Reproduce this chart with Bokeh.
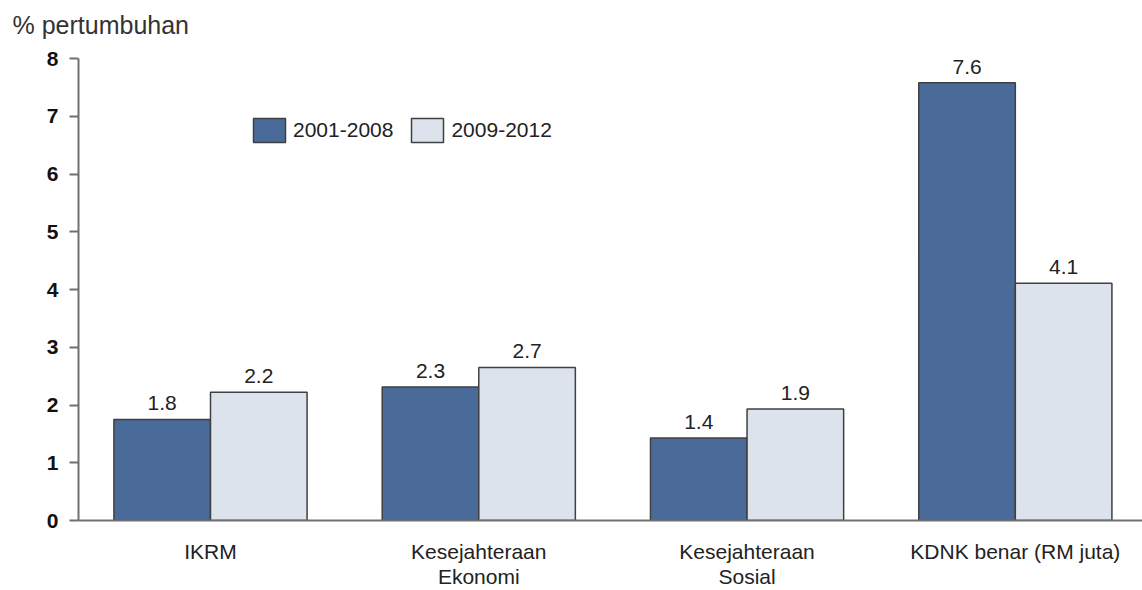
from bokeh.plotting import figure
from bokeh.models import ColumnDataSource, Range1d, FixedTicker, Legend, LegendItem, Title
from bokeh.embed import file_html
from bokeh.resources import INLINE
from bokeh.core.properties import value

categories = ["IKRM", "Kesejahteraan\nEkonomi", "Kesejahteraan\nSosial", "KDNK benar (RM juta)"]
series_names = ["2001-2008", "2009-2012"]
vals_2001_2008 = [1.75, 2.31, 1.43, 7.58]
vals_2009_2012 = [2.22, 2.65, 1.93, 4.11]
labels_2001_2008 = ["1.8", "2.3", "1.4", "7.6"]
labels_2009_2012 = ["2.2", "2.7", "1.9", "4.1"]
y_ticks = [0, 1, 2, 3, 4, 5, 6, 7, 8]
y_title = "% pertumbuhan"

FONT = "Liberation Sans"
DARK = "#4a6a9a"
LIGHT = "#dce3ec"
EDGE = "#404040"
AXIS = "#707070"

pos = [i + 0.5 for i in range(len(categories))]
bw = 0.36
src1 = ColumnDataSource(dict(x=[p_ - bw / 2 for p_ in pos], top=vals_2001_2008, lab=labels_2001_2008))
src2 = ColumnDataSource(dict(x=[p_ + bw / 2 for p_ in pos], top=vals_2009_2012, lab=labels_2009_2012))

p = figure(width=1142, height=590, output_backend="svg", toolbar_location=None,
           x_range=Range1d(0.008, 3.974), y_range=Range1d(0, 8),
           min_border_left=78, min_border_right=0, min_border_top=58, min_border_bottom=70)
p.outline_line_color = None
p.grid.visible = False
p.background_fill_color = "white"
p.border_fill_color = "white"

p.title.text = y_title
p.title.text_font = FONT
p.title.text_font_size = "25px"
p.title.text_font_style = "normal"
p.title.text_color = "#333333"
p.title.align = "left"
p.title.offset = -66
p.title.standoff = 7

# blank spacer between the title and the plot frame
p.add_layout(Title(text=" ", text_font_size="12px", standoff=0), "above")

r1 = p.vbar(x="x", top="top", width=bw, source=src1, fill_color=DARK, line_color=EDGE, line_width=1.5)
r2 = p.vbar(x="x", top="top", width=bw, source=src2, fill_color=LIGHT, line_color=EDGE, line_width=1.5)

for s in (src1, src2):
    p.text(x="x", y="top", text="lab", source=s, text_align="center", text_baseline="bottom",
           y_offset=-9, text_font=value(FONT), text_font_size="21px", text_color="#222222")

# axes
yax = p.yaxis[0]
yax.ticker = FixedTicker(ticks=y_ticks)
yax.axis_line_width = 2
yax.axis_line_color = AXIS
yax.major_tick_line_color = AXIS
yax.major_tick_line_width = 2
yax.major_tick_out = 9
yax.major_tick_in = 0
yax.minor_tick_line_color = None
yax.major_label_text_font = FONT
yax.major_label_text_font_size = "21px"
yax.major_label_text_font_style = "bold"
yax.major_label_text_color = "#111111"
yax.major_label_standoff = 11

xax = p.xaxis[0]
xax.ticker = FixedTicker(ticks=pos)
xax.major_label_overrides = {pos[i]: categories[i] for i in range(len(categories))}
xax.axis_line_width = 2
xax.axis_line_color = AXIS
xax.major_tick_line_color = None
xax.minor_tick_line_color = None
xax.major_label_text_font = FONT
xax.major_label_text_font_size = "21px"
xax.major_label_text_color = "#222222"
xax.major_label_text_line_height = 1.1
xax.major_label_standoff = 13

legend = Legend(items=[LegendItem(label=series_names[0], renderers=[r1]),
                       LegendItem(label=series_names[1], renderers=[r2])],
                orientation="horizontal", location=(171, 375),
                glyph_width=40, glyph_height=30, label_standoff=4, spacing=14,
                padding=0, margin=0, border_line_color=None, background_fill_alpha=0,
                label_text_font=FONT, label_text_font_size="21px", label_text_color="#222222")
p.add_layout(legend, "center")

open("out.html", "w").write(file_html(p, INLINE))
